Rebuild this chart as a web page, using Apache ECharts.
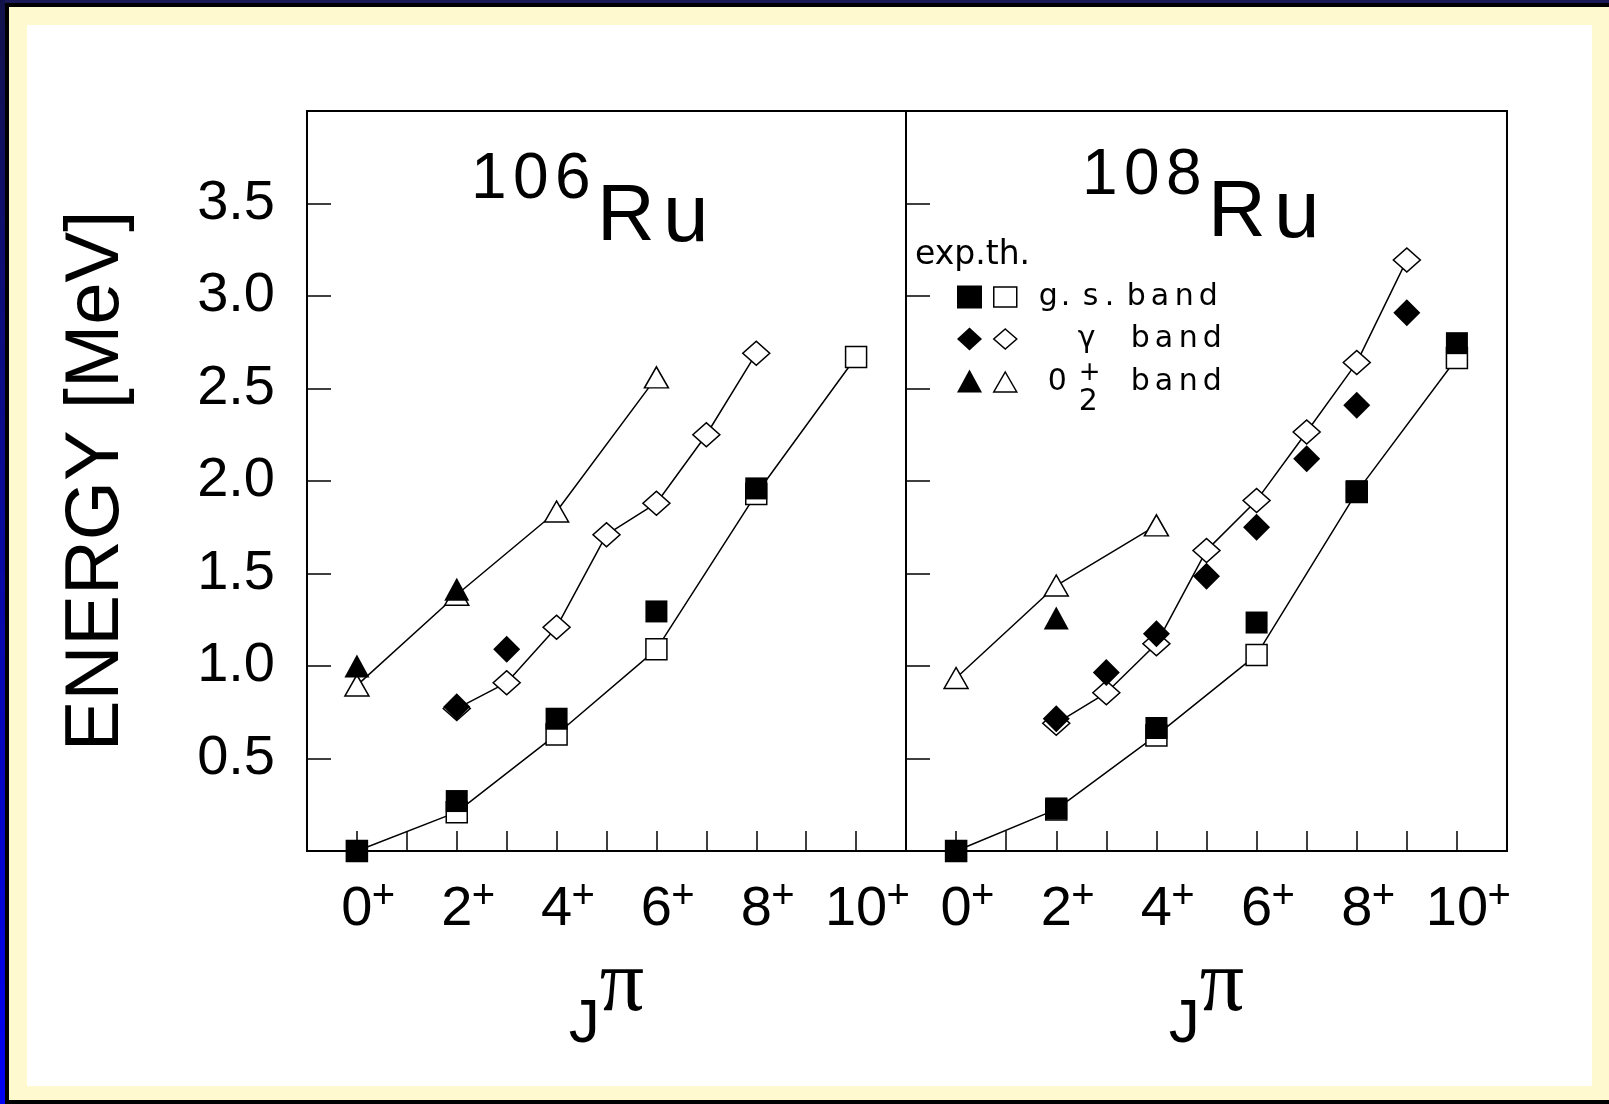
<!DOCTYPE html>
<html>
<head>
<meta charset="utf-8">
<style>
  html, body { margin: 0; padding: 0; background: #000; }
  #chart { width: 1609px; height: 1104px; }
</style>
<script src="https://cdn.jsdelivr.net/npm/echarts@6/dist/echarts.min.js"></script>
</head>
<body>
<div id="chart"></div>
<script>
// ---- tick labels -------------------------------------------------------
const spinTicks = [0, 2, 4, 6, 8, 10];
const spinTickLabels = ['0', '2', '4', '6', '8', '10'];
const parityLabel = '+';
const energyTicks = [0.5, 1.0, 1.5, 2.0, 2.5, 3.0, 3.5];

// ---- panel titles ------------------------------------------------------
const massNumbers = ['106', '108'];
const elementSymbol = 'Ru';

// ---- 106Ru level energies (MeV) vs spin J ------------------------------
const ru106GsExpJ = [0, 2, 4, 6, 8];
const ru106GsExpE = [0.0, 0.27, 0.715, 1.295, 1.96];
const ru106GsThJ = [0, 2, 4, 6, 8, 10];
const ru106GsThE = [0.0, 0.21, 0.63, 1.09, 1.93, 2.67];
const ru106GamExpJ = [2, 3];
const ru106GamExpE = [0.78, 1.09];
const ru106GamThJ = [2, 3, 4, 5, 6, 7, 8];
const ru106GamThE = [0.77, 0.91, 1.21, 1.71, 1.88, 2.25, 2.69];
const ru106ZeroExpJ = [0, 2];
const ru106ZeroExpE = [1.0, 1.415];
const ru106ZeroThJ = [0, 2, 4, 6];
const ru106ZeroThE = [0.895, 1.385, 1.835, 2.56];

// ---- 108Ru level energies (MeV) vs spin J ------------------------------
const ru108GsExpJ = [0, 2, 4, 6, 8, 10];
const ru108GsExpE = [0.0, 0.23, 0.665, 1.235, 1.945, 2.745];
const ru108GsThJ = [0, 2, 4, 6, 8, 10];
const ru108GsThE = [0.0, 0.225, 0.625, 1.06, 1.94, 2.665];
const ru108GamExpJ = [2, 3, 4, 5, 6, 7, 8, 9];
const ru108GamExpE = [0.715, 0.965, 1.175, 1.485, 1.75, 2.12, 2.41, 2.91];
const ru108GamThJ = [2, 3, 4, 5, 6, 7, 8, 9];
const ru108GamThE = [0.69, 0.855, 1.12, 1.625, 1.895, 2.265, 2.64, 3.195];
const ru108ZeroExpJ = [2];
const ru108ZeroExpE = [1.26];
const ru108ZeroThJ = [0, 2, 4];
const ru108ZeroThE = [0.935, 1.435, 1.76];

// ---- key texts ---------------------------------------------------------
const keyHeader = 'exp.th.';
const keyWord = 'band';
const gsLabel = 'g.s.';
const gammaLabel = 'γ';
const zeroLabel = ['0', '+', '2'];   // 0 with superscript + and subscript 2

// ---- assembly -----------------------------------------------------------
const FONT = '"Liberation Sans", Arial, Helvetica, sans-serif';
const SMALL_FONT = '"DejaVu Sans", Verdana, sans-serif';
const SERIF = '"Liberation Serif", "Times New Roman", serif';

function pairs(js, es) { return js.map((j, i) => [j, es[i]]); }
// one rich token per character, so each glyph gets a fixed advance
function chars(style, s) { return s.split('').map(c => '{' + style + '|' + c + '}').join(''); }

const panels = [
  {
    gs: [pairs(ru106GsExpJ, ru106GsExpE), pairs(ru106GsThJ, ru106GsThE)],
    gamma: [pairs(ru106GamExpJ, ru106GamExpE), pairs(ru106GamThJ, ru106GamThE)],
    zero2: [pairs(ru106ZeroExpJ, ru106ZeroExpE), pairs(ru106ZeroThJ, ru106ZeroThE)]
  },
  {
    gs: [pairs(ru108GsExpJ, ru108GsExpE), pairs(ru108GsThJ, ru108GsThE)],
    gamma: [pairs(ru108GamExpJ, ru108GamExpE), pairs(ru108GamThJ, ru108GamThE)],
    zero2: [pairs(ru108ZeroExpJ, ru108ZeroExpE), pairs(ru108ZeroThJ, ru108ZeroThE)]
  }
];

const bandStyles = [
  { key: 'gs', symbol: 'rect', expSize: 22, thSize: 21 },
  { key: 'gamma', symbol: 'diamond', expSize: [27, 27], thSize: [27, 24] },
  { key: 'zero2', symbol: 'triangle', expSize: [25, 23], thSize: [24, 21] }
];

const grids = [
  { left: 307, top: 111, width: 599, height: 740 },
  { left: 906, top: 111, width: 601, height: 740 }
];

function isTick(v, list) { return list.findIndex(t => Math.abs(t - v) < 1e-6); }

const xAxes = grids.map((g, p) => ({
  type: 'value', gridIndex: p, min: -1, max: 11, interval: 1,
  axisLine: { show: true, onZero: false, lineStyle: { color: '#000', width: 2 } },
  axisTick: { show: true, inside: true, length: 20, lineStyle: { color: '#000', width: 1.5 } },
  splitLine: { show: false },
  axisLabel: {
    margin: 31,
    formatter: v => {
      const i = isTick(v, spinTicks);
      return i < 0 ? '' : '{p| }{n|' + spinTickLabels[i] + '}{s|' + parityLabel + '}';
    },
    rich: {
      p: { width: 22, fontSize: 30, lineHeight: 30 },
      n: { fontFamily: FONT, fontSize: 56, lineHeight: 56, color: '#000' },
      s: { fontFamily: FONT, fontSize: 40, height: 30, lineHeight: 30, width: 22, verticalAlign: 'top', color: '#000' }
    }
  },
  name: '{j|J}{q|π}',
  nameLocation: 'middle',
  nameGap: 85,
  nameTextStyle: {
    rich: {
      j: { fontFamily: FONT, fontSize: 62, lineHeight: 164, color: '#000' },
      q: { fontFamily: SERIF, fontSize: 88, lineHeight: 90, verticalAlign: 'top', color: '#000' }
    }
  }
}));

const yAxes = grids.map((g, p) => ({
  type: 'value', gridIndex: p, min: 0, max: 4, interval: 0.5,
  axisLine: { show: true, onZero: false, lineStyle: { color: '#000', width: 2 } },
  axisTick: { show: true, inside: true, length: 24, lineStyle: { color: '#000', width: 1.5 } },
  splitLine: { show: false },
  axisLabel: {
    show: p === 0,
    margin: 32,
    fontFamily: FONT, fontSize: 56, color: '#000',
    formatter: v => (isTick(v, energyTicks) < 0 ? '' : v.toFixed(1))
  },
  name: p === 0 ? 'ENERGY [MeV]' : '',
  nameLocation: 'middle',
  nameGap: 172,
  nameTextStyle: { fontFamily: FONT, fontSize: 76, lineHeight: 76, color: '#000' }
}));

const series = [];
panels.forEach((panel, p) => {
  bandStyles.forEach(b => {
    const [exp, th] = panel[b.key];
    series.push({
      name: b.key + '-th', type: 'line', xAxisIndex: p, yAxisIndex: p,
      data: th, symbol: b.symbol, symbolSize: b.thSize, showAllSymbol: true,
      lineStyle: { color: '#000', width: 1.5 },
      itemStyle: { color: '#fff', borderColor: '#000', borderWidth: 1.5, opacity: 1 },
      emphasis: { disabled: true }, silent: true, z: 2
    });
    series.push({
      name: b.key + '-exp', type: 'scatter', xAxisIndex: p, yAxisIndex: p,
      data: exp, symbol: b.symbol, symbolSize: b.expSize,
      itemStyle: { color: '#000', opacity: 1 },
      emphasis: { disabled: true }, silent: true, z: 3
    });
  });
});

// key rows: band name, then "band" in one column
const bandLabels = {
  'gs-th': '{i| }' + chars('g', gsLabel) + chars('b', keyWord),
  'gamma-th': '{k| }{c|' + gammaLabel + '}' + chars('b', keyWord),
  'zero2-th': '{m| }{d|' + zeroLabel[0] + '}{u|' + zeroLabel[1] + '}{l|' + zeroLabel[2] + '}' + chars('b', keyWord)
};

function titleText(p) {
  return chars('d', massNumbers[p]) + '{e0|' + elementSymbol[0] + '}{e1|' + elementSymbol.slice(1) + '}';
}
const titleRich = {
  d: { fontFamily: FONT, fontSize: 64, width: 42, verticalAlign: 'top', fontWeight: 'normal', color: '#000' },
  e0: { fontFamily: FONT, fontSize: 80, width: 66, lineHeight: 140, fontWeight: 'normal', color: '#000' },
  e1: { fontFamily: FONT, fontSize: 82, lineHeight: 140, fontWeight: 'normal', color: '#000' }
};

const keyTok = { fontFamily: SMALL_FONT, fontSize: 30, lineHeight: 42, color: '#000' };

const option = {
  animation: false,
  backgroundColor: 'transparent',
  textStyle: { fontFamily: FONT },
  graphic: [
    { type: 'rect', shape: { x: 0, y: 0, width: 1609, height: 1104 }, style: { fill: '#000' }, z: -10, silent: true },
    { type: 'rect', shape: { x: 0, y: 0, width: 1609, height: 3 }, style: { fill: '#1a1a58' }, z: -9, silent: true },
    { type: 'rect', shape: { x: 0, y: 0, width: 5, height: 1104 },
      style: { fill: new echarts.graphic.LinearGradient(0, 0, 0, 1, [
        { offset: 0, color: '#12124a' }, { offset: 1, color: '#0000f4' }]) }, z: -9, silent: true },
    { type: 'rect', shape: { x: 9, y: 7, width: 1600, height: 1093 }, style: { fill: '#FFF9CF' }, z: -8, silent: true },
    { type: 'rect', shape: { x: 27, y: 25, width: 1565, height: 1061 }, style: { fill: '#fff' }, z: -7, silent: true }
  ],
  title: [
    { text: titleText(0), left: 471, top: 148, padding: 0, textStyle: { rich: titleRich } },
    { text: titleText(1), left: 1082, top: 144, padding: 0, textStyle: { rich: titleRich } },
    { text: keyHeader, left: 915, top: 239, padding: 0,
      textStyle: { fontFamily: SMALL_FONT, fontSize: 33, lineHeight: 32, fontWeight: 'normal', color: '#000' } }
  ],
  legend: [
    {
      left: 957, top: 276, orient: 'vertical', padding: 0, itemGap: 0,
      itemWidth: 25, itemHeight: 23, symbolKeepAspect: false, selectedMode: false,
      data: [{ name: 'gs-exp', icon: 'rect' }, { name: 'gamma-exp', icon: 'diamond' }, { name: 'zero2-exp', icon: 'triangle' }],
      itemStyle: { color: '#000', borderWidth: 0, opacity: 1 },
      formatter: () => ' ',
      textStyle: { fontSize: 10, lineHeight: 42 }
    },
    {
      left: 993, top: 276, orient: 'vertical', padding: 0, itemGap: 0,
      itemWidth: 23, itemHeight: 20, symbolKeepAspect: false, selectedMode: false,
      data: [{ name: 'gs-th', icon: 'rect' }, { name: 'gamma-th', icon: 'diamond' }, { name: 'zero2-th', icon: 'triangle' }],
      itemStyle: { color: '#fff', borderColor: '#000', borderWidth: 1.5, opacity: 1 },
      formatter: name => bandLabels[name],
      textStyle: {
        fontFamily: SMALL_FONT, fontSize: 30, lineHeight: 42, color: '#000',
        rich: {
          i: { width: 17 },
          k: { width: 56 },
          m: { width: 26 },
          g: Object.assign({ width: 22 }, keyTok),
          b: Object.assign({ width: 24 }, keyTok),
          c: Object.assign({ width: 53 }, keyTok),
          d: Object.assign({ width: 31 }, keyTok),
          u: { width: 0, fontFamily: SMALL_FONT, fontSize: 26, height: 24, lineHeight: 24, verticalAlign: 'top', color: '#000' },
          l: { width: 52, fontFamily: SMALL_FONT, fontSize: 30, height: 2, lineHeight: 2, verticalAlign: 'bottom', color: '#000' }
        }
      }
    }
  ],
  grid: grids.map(g => Object.assign({ show: true, borderColor: '#000', borderWidth: 2, backgroundColor: '#fff', containLabel: false }, g)),
  xAxis: xAxes,
  yAxis: yAxes,
  series: series
};

const chart = echarts.init(document.getElementById('chart'), null, { renderer: 'canvas', width: 1609, height: 1104 });
chart.setOption(option);
</script>
</body>
</html>
